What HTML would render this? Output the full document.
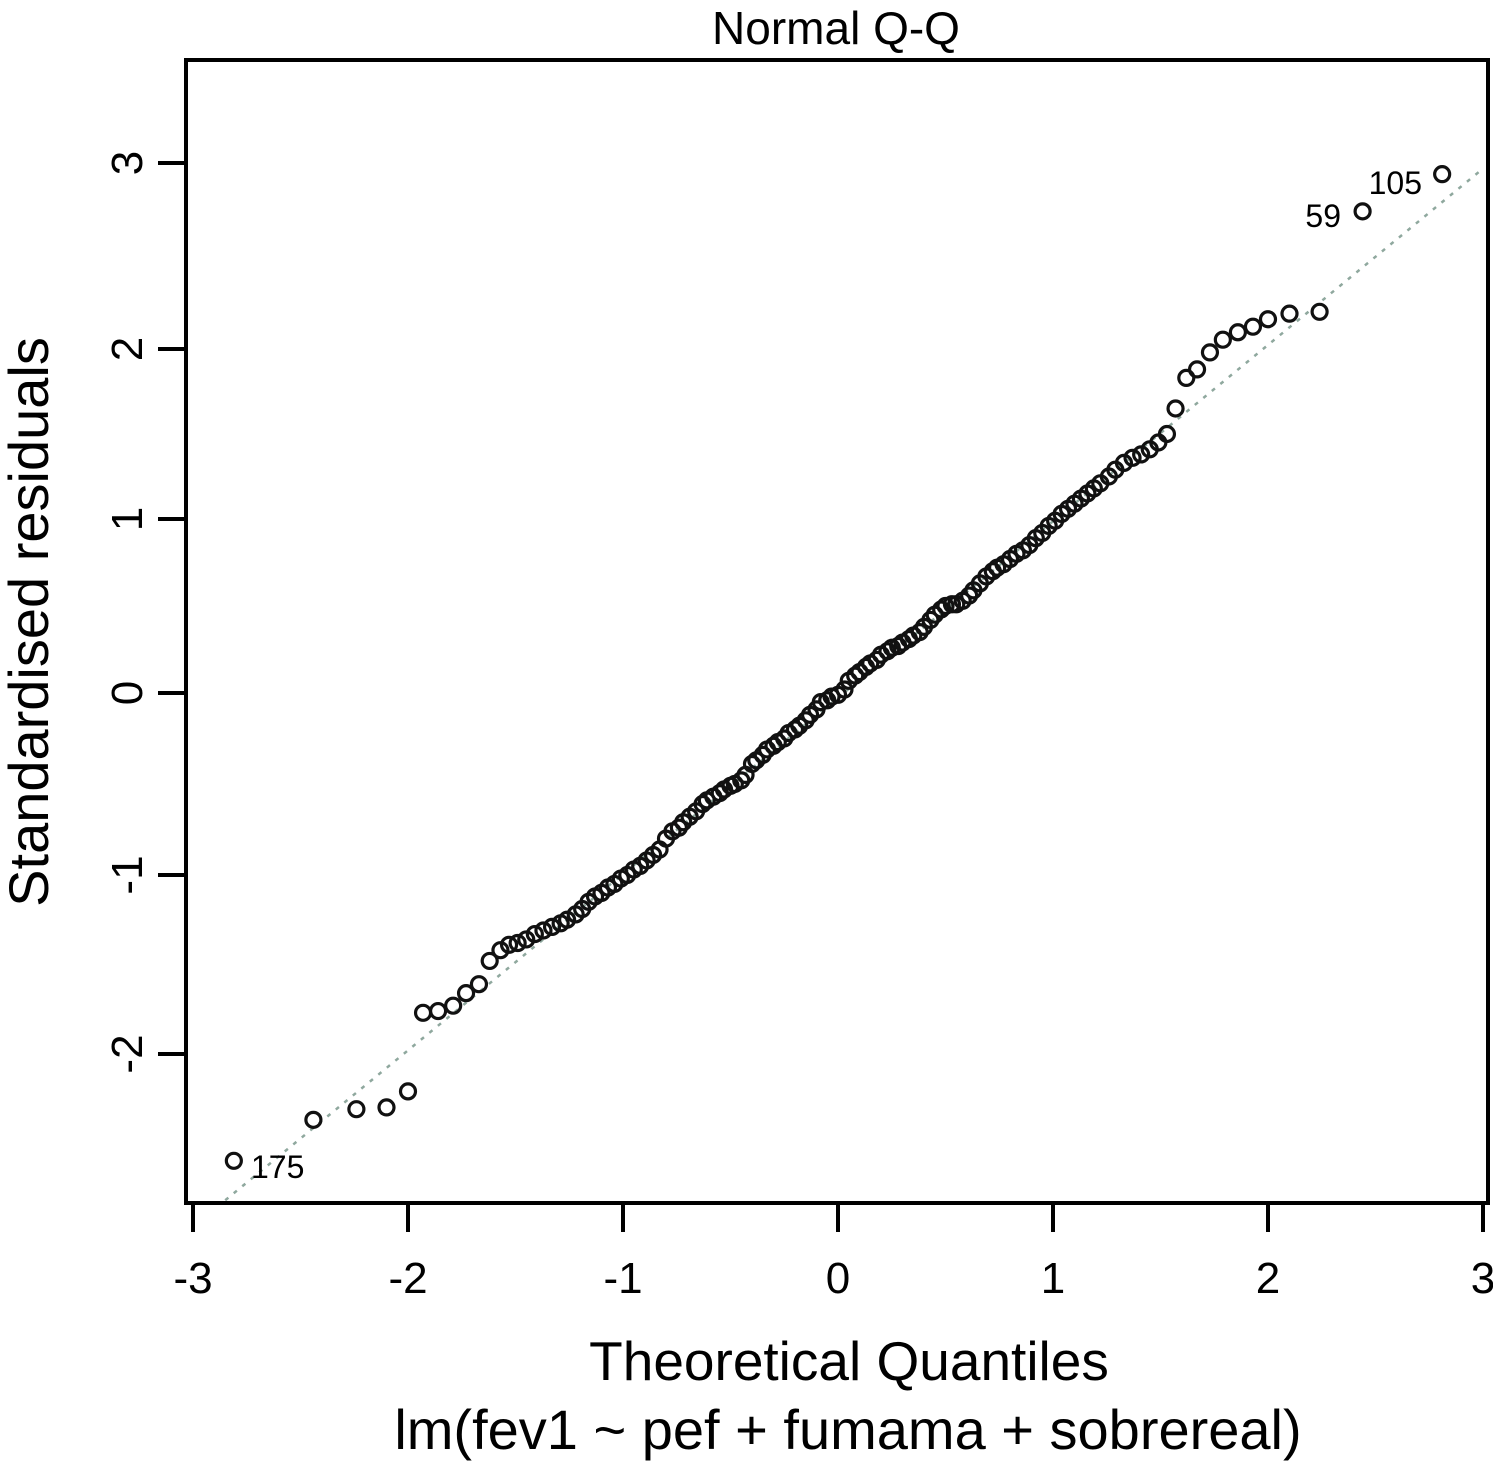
<!DOCTYPE html>
<html><head><meta charset="utf-8"><style>
html,body{margin:0;padding:0;background:#fff;}
svg{display:block;font-family:"Liberation Sans",Arial,sans-serif;}
</style></head><body>
<svg id="chart" width="1493" height="1472" viewBox="0 0 1493 1472" xmlns="http://www.w3.org/2000/svg">
<rect x="0" y="0" width="1493" height="1472" fill="#fff"/>
<text x="836" y="44" font-size="46" text-anchor="middle" fill="#000">Normal Q-Q</text>
<g id="refline"></g>
<g id="points"></g>
<rect x="186" y="60" width="1302" height="1143" fill="none" stroke="#000" stroke-width="4"/>
<g id="xaxis"></g>
<g id="yaxis"></g>
<text x="849" y="1380" font-size="55" text-anchor="middle" fill="#000">Theoretical Quantiles</text>
<text x="848" y="1449" font-size="56" text-anchor="middle" fill="#000">lm(fev1 ~ pef + fumama + sobrereal)</text>
<text transform="translate(48,622) rotate(-90)" font-size="56" text-anchor="middle" fill="#000">Standardised residuals</text>
<text x="251" y="1178" font-size="32" fill="#000">175</text>
<text x="1341" y="227" font-size="32" text-anchor="end" fill="#000">59</text>
<text x="1422" y="194" font-size="32" text-anchor="end" fill="#000">105</text>
</svg>
<script>
const theoretical = [-2.81,-2.44,-2.24,-2.10,-2.00,-1.93,-1.86,-1.79,-1.73,-1.67,-1.62,-1.57,
-1.53,-1.49,-1.45,-1.41,-1.37,-1.33,-1.29,-1.26,-1.22,-1.19,-1.16,-1.13,-1.10,-1.07,-1.04,-1.01,
-0.98,-0.95,-0.92,-0.89,-0.86,-0.83,-0.80,-0.77,-0.74,-0.72,-0.69,-0.66,-0.63,-0.61,-0.58,-0.55,-0.53,-0.50,-0.48,-0.45,-0.43,-0.40,-0.38,-0.35,-0.33,-0.30,-0.28,-0.25,-0.23,-0.20,-0.18,-0.15,-0.13,-0.10,-0.08,-0.05,-0.03,
0.00,0.03,0.05,0.08,0.10,0.13,0.15,0.18,0.20,0.23,0.25,0.28,0.30,0.33,0.35,0.38,0.40,0.43,0.45,0.48,0.50,0.53,0.55,0.58,0.61,0.63,0.66,0.69,0.72,0.74,0.77,0.80,0.83,0.86,0.89,0.92,0.95,0.98,1.01,
1.04,1.07,1.10,1.13,1.16,1.19,1.22,1.26,1.29,1.33,1.37,1.41,1.45,1.49,1.53,
1.57,1.62,1.67,1.73,1.79,1.86,1.93,2.00,2.10,2.24,2.44,2.81];
const residuals = [-2.60,-2.37,-2.31,-2.30,-2.21,-1.77,-1.76,-1.73,-1.66,-1.61,-1.48,-1.42,
-1.39,-1.38,-1.36,-1.33,-1.31,-1.29,-1.27,-1.25,-1.22,-1.19,-1.15,-1.12,-1.10,-1.07,-1.05,-1.02,
-1.00,-0.97,-0.95,-0.92,-0.89,-0.86,-0.80,-0.76,-0.74,-0.71,-0.68,-0.65,-0.61,-0.59,-0.57,-0.55,-0.53,-0.51,-0.50,-0.48,-0.45,-0.39,-0.37,-0.34,-0.31,-0.29,-0.27,-0.25,-0.22,-0.20,-0.18,-0.15,-0.12,-0.09,-0.05,-0.04,-0.02,
-0.01,0.02,0.07,0.10,0.12,0.15,0.17,0.19,0.22,0.24,0.26,0.27,0.29,0.31,0.33,0.35,0.38,0.42,0.45,0.48,0.50,0.51,0.51,0.53,0.56,0.59,0.63,0.67,0.70,0.72,0.74,0.77,0.80,0.82,0.85,0.89,0.92,0.96,0.99,
1.03,1.06,1.09,1.12,1.15,1.18,1.21,1.25,1.29,1.33,1.36,1.38,1.41,1.45,1.50,
1.65,1.83,1.88,1.98,2.05,2.09,2.12,2.16,2.19,2.20,2.74,2.94];
const xTicks = [-3,-2,-1,0,1,2,3];
const yTicks = [-2,-1,0,1,2,3];
const refLine = [-2.85, 3.0];
const refSlope = 0.99;
const refIntercept = 0.0;

const NS = "http://www.w3.org/2000/svg";
function xs(v){ return 838 + v*215; }
const yCalV = [-3,-2,-1,0,1,2,3,4];
const yCalP = [1232,1054,875,693,519,349,163,-23];
function ys(v){
  for (let i=0;i<yCalV.length-1;i++){
    if (v<=yCalV[i+1] || i===yCalV.length-2){
      const t=(v-yCalV[i])/(yCalV[i+1]-yCalV[i]);
      return yCalP[i]+t*(yCalP[i+1]-yCalP[i]);
    }
  }
}
function mk(tag, attrs, parent){
  const e=document.createElementNS(NS,tag);
  for (const k in attrs) e.setAttribute(k, attrs[k]);
  parent.appendChild(e); return e;
}
const rl = document.getElementById('refline');
const ln = mk('line',{x1:xs(refLine[0]),y1:ys(refIntercept+refSlope*refLine[0]),x2:xs(refLine[1]),y2:ys(refIntercept+refSlope*refLine[1]),stroke:'#8fa89e','stroke-width':2.5,'stroke-dasharray':'4 7'},rl);


const clip = mk('clipPath',{id:'pc'},document.getElementById('chart'));
mk('rect',{x:186,y:60,width:1302,height:1143},clip);
rl.setAttribute('clip-path','url(#pc)');
const pg = document.getElementById('points');
for (let i=0;i<theoretical.length;i++){
  const c = mk('circle',{cx:xs(theoretical[i]),cy:ys(residuals[i]),r:7.5,fill:'none',stroke:'#111','stroke-width':3.2},pg);
  
  
}
const xa = document.getElementById('xaxis');
xTicks.forEach(t=>{
  const l = mk('line',{x1:xs(t),y1:1203,x2:xs(t),y2:1232,stroke:'#000','stroke-width':4},xa);
  
  
  const tx = mk('text',{x:xs(t),y:1293,'font-size':44,'text-anchor':'middle',fill:'#000'},xa);
  tx.textContent = String(t);
  
  
});
const ya = document.getElementById('yaxis');
yTicks.forEach(t=>{
  const l = mk('line',{x1:158,y1:ys(t),x2:186,y2:ys(t),stroke:'#000','stroke-width':4},ya);
  
  
  const tx = mk('text',{transform:'translate(142,'+ys(t)+') rotate(-90)','font-size':44,'text-anchor':'middle',fill:'#000'},ya);
  tx.textContent = String(t);
  
  
});
</script>
</body></html>
